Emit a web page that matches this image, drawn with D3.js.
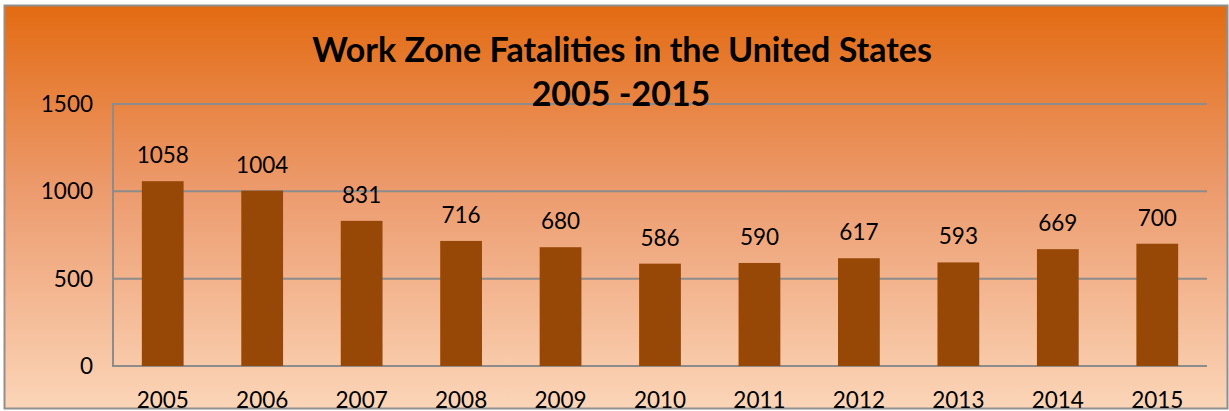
<!DOCTYPE html>
<html>
<meta charset="utf-8" />
<script src="https://d3js.org/d3.v7.min.js"></script>
<style>
  body { margin: 0; background: #fff; }
  text { font-family: Lato, "Open Sans", sans-serif; }
</style>
<body>
<svg id="chart" width="1229" height="411"></svg>
<script>
// data
var years = ["2005", "2006", "2007", "2008", "2009", "2010", "2011", "2012", "2013", "2014", "2015"]
var fatalities = [1058, 1004, 831, 716, 680, 586, 590, 617, 593, 669, 700]
var yTicks = [0, 500, 1000, 1500]

var svg = d3.select("#chart"),
  width = +svg.attr("width"),
  height = +svg.attr("height")

var margin = { top: 104, right: 22, bottom: 45, left: 113 }

// background gradient
var grad = svg.append("defs").append("linearGradient")
  .attr("id", "bg").attr("x1", 0).attr("y1", 0).attr("x2", 0).attr("y2", 1)
grad.append("stop").attr("offset", "0%").attr("stop-color", "#e36b12")
grad.append("stop").attr("offset", "45%").attr("stop-color", "#ec9a6c")
grad.append("stop").attr("offset", "100%").attr("stop-color", "#fbd5b8")

svg.append("rect")
  .attr("x", 4.5).attr("y", 5.5)
  .attr("width", width - 6).attr("height", height - 8)
  .attr("fill", "url(#bg)")
  .attr("stroke", "#8f8f8f").attr("stroke-width", 2)

var x = d3.scaleBand()
  .domain(years)
  .range([margin.left, width - margin.right])
  .paddingInner(0.58).paddingOuter(0.29)

var y = d3.scaleLinear()
  .domain([0, 1500])
  .range([height - margin.bottom, margin.top])

// gridlines
svg.append("g")
  .selectAll("line")
  .data(yTicks)
  .enter()
  .append("line")
  .attr("x1", margin.left).attr("x2", width - margin.right)
  .attr("y1", d => y(d)).attr("y2", d => y(d))
  .attr("stroke", "#8c8c8c").attr("stroke-width", 2)

// y axis line
svg.append("line")
  .attr("x1", margin.left).attr("x2", margin.left)
  .attr("y1", y(0) + 1).attr("y2", y(1500) - 1)
  .attr("stroke", "#8c8c8c").attr("stroke-width", 2)

// y tick labels
svg.append("g")
  .selectAll("text")
  .data(yTicks)
  .enter()
  .append("text")
  .attr("x", 93)
  .attr("y", d => y(d) + 8)
  .attr("text-anchor", "end")
  .attr("font-size", 22.5)
  .text(d => d)

// bars
svg.append("g")
  .selectAll("rect")
  .data(fatalities)
  .enter()
  .append("rect")
  .attr("x", (d, i) => x(years[i]))
  .attr("width", x.bandwidth())
  .attr("y", d => y(d))
  .attr("height", d => y(0) - y(d))
  .attr("fill", "#974806")

// value labels
svg.append("g")
  .selectAll("text")
  .data(fatalities)
  .enter()
  .append("text")
  .attr("x", (d, i) => x(years[i]) + x.bandwidth() / 2)
  .attr("y", d => y(d) - 18)
  .attr("text-anchor", "middle")
  .attr("font-size", 22.5)
  .text(d => d)

// x labels
svg.append("g")
  .selectAll("text")
  .data(years)
  .enter()
  .append("text")
  .attr("x", d => x(d) + x.bandwidth() / 2)
  .attr("y", 408)
  .attr("text-anchor", "middle")
  .attr("font-size", 22.5)
  .text(d => d)

// title
svg.append("text")
  .attr("x", 622).attr("y", 62)
  .attr("text-anchor", "middle")
  .attr("font-size", 34).attr("font-weight", "bold")
  .text("Work Zone Fatalities in the United States")
svg.append("text")
  .attr("x", 621).attr("y", 106)
  .attr("text-anchor", "middle")
  .attr("font-size", 34).attr("font-weight", "bold")
  .text("2005 -2015")
</script>
</body>
</html>
